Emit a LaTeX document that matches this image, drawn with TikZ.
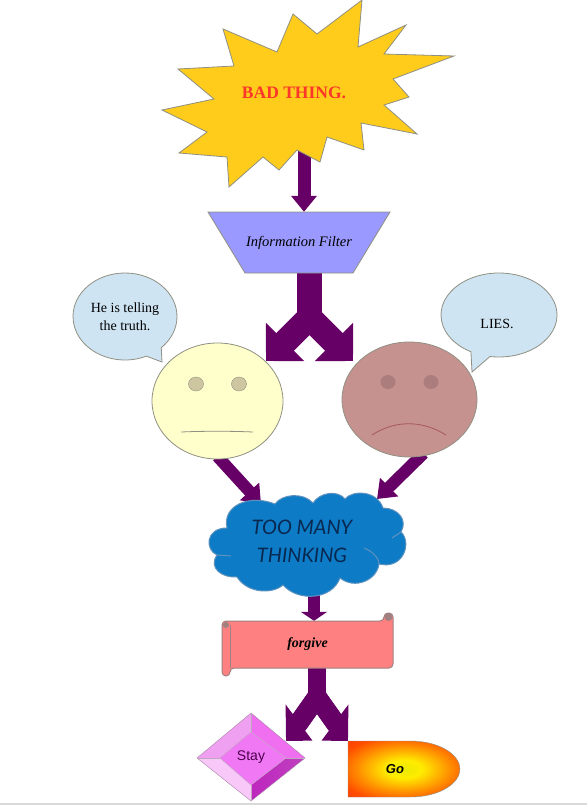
\documentclass[tikz,border=0pt]{standalone}
\usepackage{fontspec}
\setmainfont{Liberation Serif}
\setsansfont{Liberation Sans}
\newfontfamily\thinkfont{Lato}
\usetikzlibrary{shapes, shapes.callouts, arrows.meta, backgrounds}

\definecolor{arrowpurple}{HTML}{660066}
\definecolor{edgegray}{HTML}{8F8F82}
\definecolor{bubbleblue}{HTML}{CFE4F3}
\definecolor{cloudedge}{HTML}{5F93BE}
\definecolor{scrolledge}{HTML}{A08080}

\pgfdeclareradialshading{gofade}{\pgfpoint{0bp}{0bp}}{color(0bp)=(yellow!92!black); color(8bp)=(yellow!85!orange); color(20bp)=(orange!85!yellow); color(30bp)=(orange!60!red); color(50bp)=(orange!30!red)}

\begin{document}
\begin{tikzpicture}[
    x=1pt, y=-1pt,
    blockline/.style={draw=arrowpurple, line width=#1},
    blockarrow/.style={draw=arrowpurple, line width=13pt, -{Triangle[length=16pt, width=25pt]}},
    smallarrow/.style={draw=arrowpurple, line width=12pt, -{Triangle[length=17pt, width=25pt]}},
    forkarm/.style={draw=arrowpurple, line width=25pt, -{Triangle[length=27pt, width=53pt]}},
    smallfork/.style={draw=arrowpurple, line width=19.5pt, -{Triangle[length=22.6pt, width=41.4pt, slant=#1]}},
    bubble/.style={ellipse callout, draw=edgegray, line width=.8pt, fill=bubbleblue, inner sep=0pt, callout pointer arc=20, font=\fontsize{14}{18}\selectfont, align=center},
    face/.style={ellipse, draw=edgegray, line width=.8pt, inner sep=0pt},
    eye/.style={ellipse, inner sep=0pt, minimum width=15pt, minimum height=14pt}
]
\useasboundingbox (0,0) rectangle (587,805);
\fill[gray!30] (0,803) rectangle (587,805);

% Burst
\draw[draw=edgegray, line width=.8pt, fill={rgb,255:red,255;green,204;blue,28}] (362,0) -- (358,47) -- (406,25) -- (384,54) -- (454,56) -- (393,79) -- (409,97) -- (384,105) -- (417,134) -- (361,123) -- (364,150) -- (327,137) -- (320,162) -- (297,150) -- (279,170) -- (263,157) -- (229,187) -- (227,157) -- (179,153) -- (207,132) -- (162,110) -- (214,99) -- (178,69) -- (234,66) -- (223,29) -- (277,52) -- (293,14) -- (317,34) -- cycle;
\node[text={rgb,255:red,250;green,55;blue,40}, font=\fontsize{17.5}{20}\selectfont\bfseries] (burst) at (294,93) {BAD THING.};

% Filter
\draw[draw=edgegray, line width=.8pt, fill={rgb,255:red,153;green,153;blue,255}] (208,212) -- (390,212) -- (353,273) -- (245,273) -- cycle;
\node[minimum width=182pt, minimum height=61pt, inner sep=0pt, font=\fontsize{14.5}{16}\selectfont\itshape] (filter) at (299,242.5) {Information Filter};

% Speech bubbles
\node[bubble, minimum width=104pt, minimum height=87pt, callout absolute pointer={(162,362)}] (leftbubble) at (125,316.5) {He is telling\\ the truth.};
\node[bubble, minimum width=116pt, minimum height=84pt, callout absolute pointer={(472,372)}, label={[yshift=-9pt, xshift=-2pt, font=\fontsize{14}{18}\selectfont]center:LIES.}] (rightbubble) at (499,315) {};

% Faces
\node[face, fill={rgb,255:red,255;green,255;blue,204}, minimum width=131pt, minimum height=116pt] (leftface) at (217.5,401) {};
\node[face, fill={rgb,255:red,198;green,146;blue,144}, minimum width=135pt, minimum height=115pt] (rightface) at (409.5,399.5) {};
\node[eye, draw=edgegray, fill={rgb,255:red,205;green,198;blue,160}] (lefteyea) at (196,384) {};
\node[eye, draw=edgegray, fill={rgb,255:red,205;green,198;blue,160}] (lefteyeb) at (239,384) {};
\node[eye, fill={rgb,255:red,172;green,125;blue,125}] (righteyea) at (388,382) {};
\node[eye, fill={rgb,255:red,172;green,125;blue,125}] (righteyeb) at (431,382) {};
\draw[edgegray, line width=.8pt] (181,432) .. controls (205,431) and (230,431) .. (253,432);
\draw[gray!70!red, line width=.8pt] (372,435) .. controls (395,420) and (422,420) .. (446,435);

% Cloud
\draw[draw=cloudedge, line width=1pt, fill={rgb,255:red,13;green,123;blue,198}] (227,528) .. controls (222,505) and (250,494) .. (275,504)
    .. controls (282,494) and (303,492) .. (313,503)
    .. controls (320,492) and (338,490) .. (345,499)
    .. controls (352,490) and (377,490) .. (383,508)
    .. controls (398,508) and (408,520) .. (401,532)
    .. controls (412,542) and (404,570) .. (379,564)
    .. controls (377,580) and (355,590) .. (340,578)
    .. controls (332,600) and (298,602) .. (283,585)
    .. controls (273,594) and (248,594) .. (237,577)
    .. controls (222,578) and (208,568) .. (217,555)
    .. controls (205,550) and (205,528) .. (227,528) -- cycle;
\draw[cloudedge, line width=1pt] (364,548) .. controls (372,551) and (379,558) .. (379,564);
\draw[cloudedge, line width=1pt] (392,538) -- (401,532);
\draw[cloudedge, line width=1pt] (217,555) -- (231,556);
\node[text={rgb,255:red,8;green,40;blue,80}, align=center, font=\fontsize{20}{28}\selectfont\thinkfont\itshape] (thinking) at (302,541) {TOO MANY\\THINKING};

% Scroll
\draw[draw=scrolledge, line width=1pt, fill={rgb,255:red,255;green,128;blue,128}, rounded corners=4pt] (222,621) -- (384,621) -- (384,613) -- (393,613) -- (393,668) -- (230,668) -- (230,676) -- (222,676) -- cycle;
\draw[scrolledge, line width=1pt] (230,625) -- (230,668);
\fill[scrolledge] (226,625) circle (3pt) (388.5,617) circle (4pt);
\node[minimum width=171pt, minimum height=47pt, inner sep=0pt, font=\fontsize{14}{16}\selectfont\bfseries\itshape] (forgive) at (307.5,644.5) {forgive};

% Stay
\fill[fill={rgb,255:red,240;green,160;blue,240}] (197,758) -- (251,713) -- (251,732) -- (220,758) -- cycle;
\fill[fill={rgb,255:red,240;green,110;blue,240}] (251,713) -- (305,758) -- (286,758) -- (251,732) -- cycle;
\fill[fill={rgb,255:red,248;green,200;blue,248}] (197,758) -- (251,801) -- (251,785) -- (220,758) -- cycle;
\shade[left color=violet!30!magenta!70!gray, right color=magenta!50!gray] (305,758) -- (251,801) -- (251,785) -- (286,758) -- cycle;
\draw[draw=violet!40!gray!70] (197,758) -- (251,713) -- (305,758) -- (251,801) -- cycle;
\draw[draw=violet!40!gray!50, fill={rgb,255:red,240;green,120;blue,245}] (220,758) -- (251,732) -- (286,758) -- (251,785) -- cycle;
\draw[violet!40!gray!50] (197,758) -- (220,758) (251,713) -- (251,732) (305,758) -- (286,758) (251,801) -- (251,785);
\node[font=\sffamily\fontsize{14}{16}\selectfont, text=violet!60!black] (stay) at (251,757) {Stay};

% Go
\shade[shading=gofade] (348,741) -- (410,741) .. controls (440,741) and (460,755) .. (460,769) .. controls (460,783) and (440,797) .. (410,797) -- (348,797) -- cycle;
\draw[draw=edgegray] (348,741) -- (410,741) .. controls (440,741) and (460,755) .. (460,769) .. controls (460,783) and (440,797) .. (410,797) -- (348,797) -- cycle;
\node[font=\sffamily\fontsize{13}{15}\selectfont\bfseries\itshape] (go) at (395,769) {Go};

% Connection points
\coordinate (fork1) at (309.5,317.5);
\coordinate (fork1left) at (266,361);
\coordinate (fork1right) at (353,361);
\coordinate (fork2) at (317,697);
\coordinate (fork2left) at (286,741);
\coordinate (fork2right) at (348,741);
\coordinate (fork2leftbase) at (296.5,726);
\coordinate (fork2rightbase) at (337.5,726);
\coordinate (cloudleft) at (261,504);
\coordinate (cloudright) at (377,499);

% Connections
\begin{pgfonlayer}{background}
\draw[blockarrow] ([xshift=10pt]burst.south) -- ([xshift=5pt]filter.north);
\draw[blockline=25pt] (filter.south -| fork1) -- ([yshift=-8pt]fork1);
\draw[forkarm] (fork1) -- (fork1left);
\draw[forkarm] (fork1) -- (fork1right);
\draw[smallarrow] ([yshift=3pt]leftface.south) -- (cloudleft);
\draw[smallarrow] ([xshift=14pt, yshift=4pt]rightface.south) -- (cloudright);
\draw[draw=arrowpurple, line width=12pt, -{Triangle[length=9pt, width=26pt]}] ([xshift=12pt]thinking.center) -- ([xshift=6.5pt]forgive.north);
\draw[blockline=18pt] (forgive.south -| fork2) -- ([yshift=-8pt]fork2);
\draw[smallfork=.33] (fork2) -- (fork2left);
\draw[smallfork=-.33] (fork2) -- (fork2right);
\draw[blockline=19.5pt] (fork2) -- (fork2leftbase);
\draw[blockline=19.5pt] (fork2) -- (fork2rightbase);
\end{pgfonlayer}

\end{tikzpicture}
\end{document}
